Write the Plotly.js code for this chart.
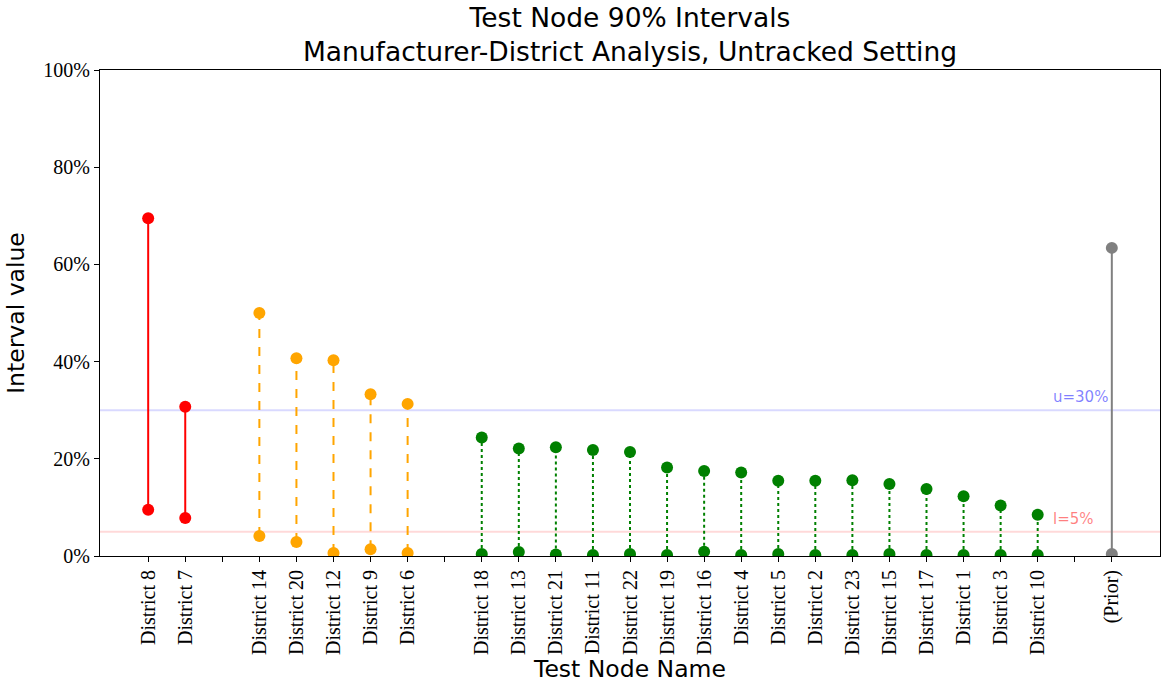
<!DOCTYPE html>
<html><head><meta charset="utf-8">
<script src="https://cdn.plot.ly/plotly-3.0.1.min.js"></script>
<style>html,body{margin:0;padding:0;background:#fff}#chart{width:1162px;height:683px}</style>
</head><body><div id="chart"></div>
<script>
// Group 1 (red, solid)
const redNames = ["District 8", "District 7"];
const redLow   = [0.095, 0.078];
const redHigh  = [0.695, 0.307];
// Group 2 (orange, dashed)
const orangeNames = ["District 14", "District 20", "District 12", "District 9", "District 6"];
const orangeLow   = [0.041, 0.029, 0.006, 0.014, 0.006];
const orangeHigh  = [0.500, 0.407, 0.403, 0.333, 0.313];
// Group 3 (green, dotted)
const greenNames = ["District 18", "District 13", "District 21", "District 11", "District 22", "District 19",
                    "District 16", "District 4", "District 5", "District 2", "District 23", "District 15",
                    "District 17", "District 1", "District 3", "District 10"];
const greenLow   = [0.004, 0.008, 0.003, 0.002, 0.004, 0.002, 0.009, 0.002, 0.004, 0.002, 0.002, 0.004,
                    0.002, 0.002, 0.002, 0.002];
const greenHigh  = [0.244, 0.221, 0.224, 0.218, 0.214, 0.182, 0.175, 0.172, 0.155, 0.155, 0.156, 0.148,
                    0.138, 0.123, 0.104, 0.085];
// Prior (gray, solid)
const priorNames = ["(Prior)"];
const priorLow   = [0.004];
const priorHigh  = [0.634];
// Reference thresholds
const upperRef = 0.30;
const lowerRef = 0.05;

const groups = [
  {names: redNames, low: redLow, high: redHigh, color: "#ff0000", dash: "solid"},
  {names: orangeNames, low: orangeLow, high: orangeHigh, color: "#ffa500", dash: "dash"},
  {names: greenNames, low: greenLow, high: greenHigh, color: "#008000", dash: "dot"},
  {names: priorNames, low: priorLow, high: priorHigh, color: "#808080", dash: "solid"}
];

const traces = [];
const tickvals = [], ticktext = [];
let pos = 0;
groups.forEach((g, gi) => {
  const xs = [], ys = [];
  g.names.forEach((n, i) => {
    xs.push(pos, pos, null);
    ys.push(g.low[i], g.high[i], null);
    tickvals.push(pos); ticktext.push(n);
    pos++;
  });
  traces.push({
    type: "scatter", mode: "lines+markers", x: xs, y: ys,
    line: {color: g.color, width: 2, dash: g.dash},
    marker: {color: g.color, size: 12},
    connectgaps: false, hoverinfo: "y", showlegend: false
  });
  if (gi < groups.length - 1) { tickvals.push(pos); ticktext.push(""); pos++; }
});
const lastPos = pos - 1;
const pad = lastPos * 0.05;

const layout = {
  width: 1162, height: 683,
  margin: {l: 100, r: 2, t: 70, b: 127},
  paper_bgcolor: "#fff", plot_bgcolor: "#fff",
  title: {text: "Test Node 90% Intervals<br>Manufacturer-District Analysis, Untracked Setting",
          font: {family: "DejaVu Sans", size: 26.5, color: "#000"},
          xref: "paper", x: 0.5, xanchor: "center",
          yref: "container", y: 1 - 27 / 683, yanchor: "middle"},
  xaxis: {range: [-pad, lastPos + pad], tickmode: "array", tickvals: tickvals, ticktext: ticktext,
          tickangle: -90, ticks: "outside", ticklen: 5, tickcolor: "#000",
          tickfont: {family: "Liberation Serif", size: 20, color: "#000"},
          showgrid: false, zeroline: false, showline: true, linecolor: "#000", linewidth: 1, mirror: true,
          title: {text: "Test Node Name", font: {family: "DejaVu Sans", size: 23.5, color: "#000"}, standoff: 8}},
  yaxis: {range: [0, 1], tickvals: [0, 0.2, 0.4, 0.6, 0.8, 1.0], tickformat: ".0%",
          ticks: "outside", ticklen: 5, tickcolor: "#000",
          tickfont: {family: "Liberation Serif", size: 20, color: "#000"},
          showgrid: false, zeroline: false, showline: true, linecolor: "#000", linewidth: 1, mirror: true,
          title: {text: "Interval value", font: {family: "DejaVu Sans", size: 23.5, color: "#000"}, standoff: 12}},
  shapes: [
    {type: "line", xref: "paper", x0: 0, x1: 1, yref: "y", y0: upperRef, y1: upperRef,
     line: {color: "rgba(0,0,255,0.15)", width: 2}, layer: "below"},
    {type: "line", xref: "paper", x0: 0, x1: 1, yref: "y", y0: lowerRef, y1: lowerRef,
     line: {color: "rgba(255,0,0,0.15)", width: 2}, layer: "below"}
  ],
  annotations: [
    {xref: "x", yref: "y", x: lastPos - 1.65, y: upperRef, xanchor: "left", yanchor: "bottom", yshift: 2,
     text: "u=" + Math.round(upperRef * 100) + "%", showarrow: false,
     font: {family: "DejaVu Sans", size: 15, color: "rgba(0,0,255,0.5)"}},
    {xref: "x", yref: "y", x: lastPos - 1.65, y: lowerRef, xanchor: "left", yanchor: "bottom", yshift: 2,
     text: "l=" + Math.round(lowerRef * 100) + "%", showarrow: false,
     font: {family: "DejaVu Sans", size: 15, color: "rgba(255,0,0,0.5)"}}
  ]
};

Plotly.newPlot("chart", traces, layout, {displayModeBar: false, responsive: false});
</script>
</body></html>
